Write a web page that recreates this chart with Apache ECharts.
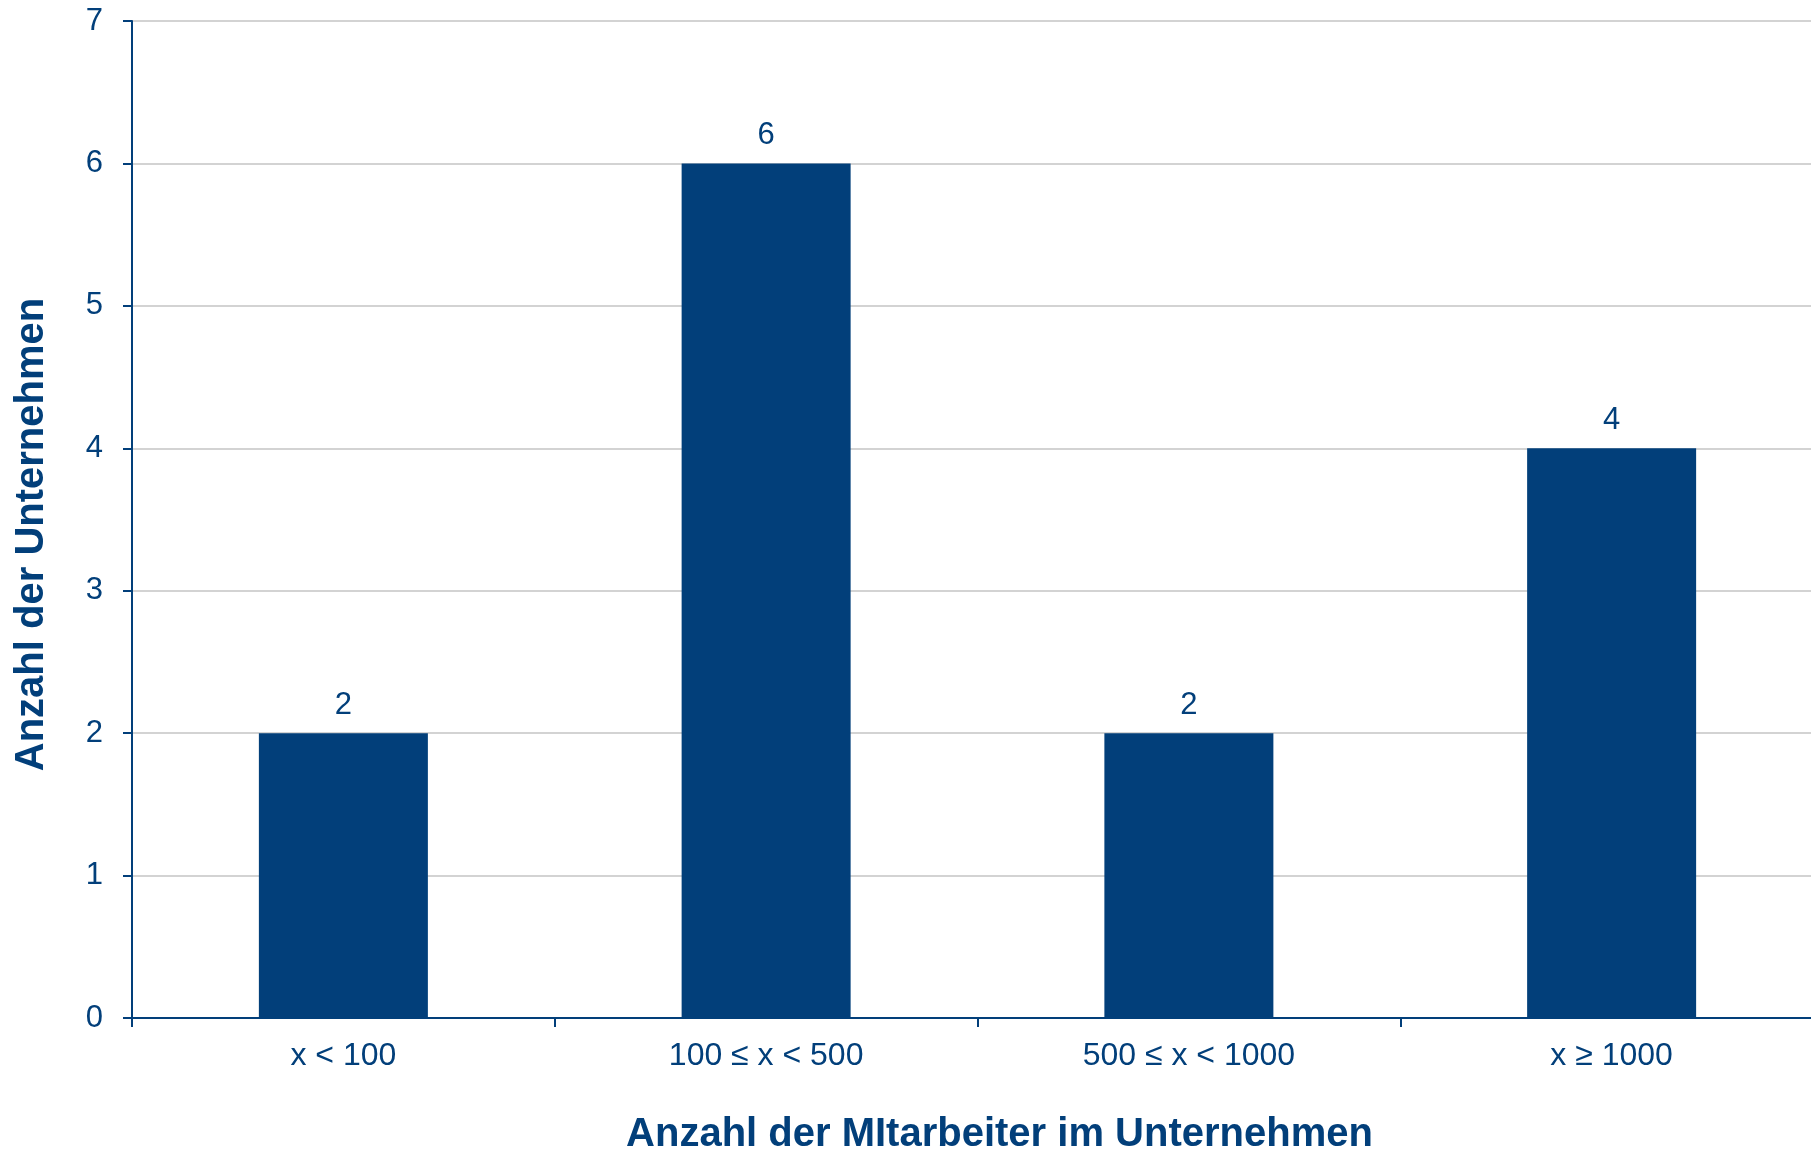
<!DOCTYPE html>
<html>
<head>
<meta charset="utf-8">
<script src="https://cdn.jsdelivr.net/npm/echarts@6/dist/echarts.min.js"></script>
<style>
  html, body { margin: 0; padding: 0; background: #ffffff; }
  #chart { width: 1811px; height: 1151px; }
</style>
</head>
<body>
<div id="chart"></div>
<script>
// Company size classes (number of employees) and company counts
const categories = ['x < 100', '100 ≤ x < 500', '500 ≤ x < 1000', 'x ≥ 1000'];
const companyCounts = [2, 6, 2, 4];
const yTicks = [0, 1, 2, 3, 4, 5, 6, 7];

const BLUE = '#023f7a';
const FONT = '"Liberation Sans", Arial, sans-serif';

const chart = echarts.init(document.getElementById('chart'), null, { renderer: 'canvas' });

chart.setOption({
  backgroundColor: '#ffffff',
  animation: false,
  grid: {
    left: 132, top: 21, right: -12, bottom: 133,
    containLabel: false,
    outerBoundsMode: 'none'
  },
  xAxis: {
    type: 'category',
    data: categories,
    boundaryGap: true,
    name: 'Anzahl der MItarbeiter im Unternehmen',
    nameLocation: 'middle',
    nameGap: 97,
    nameTextStyle: { color: BLUE, fontFamily: FONT, fontWeight: 'bold', fontSize: 40, padding: [0, 0, 0, 44] },
    axisLine: { show: true, lineStyle: { color: BLUE, width: 2 } },
    axisTick: { show: true, alignWithLabel: false, length: 9, lineStyle: { color: BLUE, width: 2 } },
    axisLabel: { color: BLUE, fontFamily: FONT, fontSize: 32, margin: 22 },
    splitLine: { show: false }
  },
  yAxis: {
    type: 'value',
    min: yTicks[0],
    max: yTicks[yTicks.length - 1],
    interval: 1,
    name: 'Anzahl der Unternehmen',
    nameLocation: 'middle',
    nameRotate: 90,
    nameGap: 80,
    nameTextStyle: { color: BLUE, fontFamily: FONT, fontWeight: 'bold', fontSize: 40, padding: [0, 30, 0, 0] },
    axisLine: { show: true, lineStyle: { color: BLUE, width: 2 } },
    axisTick: { show: true, inside: false, length: 9, lineStyle: { color: BLUE, width: 2 } },
    axisLabel: { color: BLUE, fontFamily: FONT, fontSize: 31, margin: 29 },
    splitLine: { show: true, lineStyle: { color: '#c4c4c4', width: 1.5 } }
  },
  series: [{
    type: 'bar',
    data: companyCounts,
    barWidth: 169,
    itemStyle: { color: BLUE },
    label: {
      show: true,
      position: 'top',
      distance: 12,
      color: BLUE,
      fontFamily: FONT,
      fontSize: 31
    }
  }]
});
</script>
</body>
</html>
